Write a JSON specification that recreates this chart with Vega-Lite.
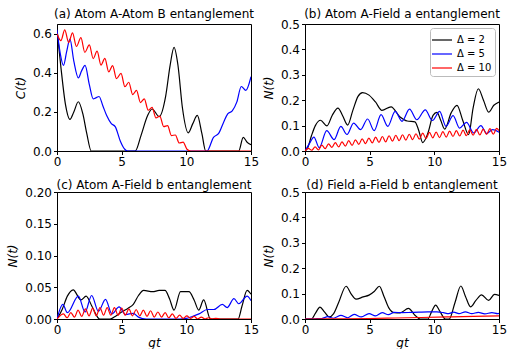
{
"$schema": "https://vega.github.io/schema/vega-lite/v6.json",
"padding": {"left": 6, "top": 7, "right": 0, "bottom": 0},
"datasets": {
"a": [
{"s":"2","t":0,"v":0.62},{"s":"2","t":0.3,"v":0.43},{"s":"2","t":0.65,"v":0.24},{"s":"2","t":1.0,"v":0.162},{"s":"2","t":1.3,"v":0.2},{"s":"2","t":1.65,"v":0.252},{"s":"2","t":2.0,"v":0.19},{"s":"2","t":2.3,"v":0.09},{"s":"2","t":2.65,"v":0},{"s":"2","t":6.05,"v":0},{"s":"2","t":6.5,"v":0.08},{"s":"2","t":7.0,"v":0.18},{"s":"2","t":7.35,"v":0.215},{"s":"2","t":7.9,"v":0.176},{"s":"2","t":8.4,"v":0.28},{"s":"2","t":8.75,"v":0.44},{"s":"2","t":9.05,"v":0.53},{"s":"2","t":9.35,"v":0.44},{"s":"2","t":9.7,"v":0.22},{"s":"2","t":10.15,"v":0.093},{"s":"2","t":10.5,"v":0.14},{"s":"2","t":10.85,"v":0.182},{"s":"2","t":11.2,"v":0.09},{"s":"2","t":11.5,"v":0},{"s":"2","t":14.05,"v":0},{"s":"2","t":14.4,"v":0.07},{"s":"2","t":14.7,"v":0.045},{"s":"2","t":15,"v":0.032},
{"s":"5","t":0,"v":0.62},{"s":"5","t":0.25,"v":0.5},{"s":"5","t":0.5,"v":0.438},{"s":"5","t":0.75,"v":0.51},{"s":"5","t":1.0,"v":0.573},{"s":"5","t":1.3,"v":0.46},{"s":"5","t":1.65,"v":0.374},{"s":"5","t":1.9,"v":0.41},{"s":"5","t":2.17,"v":0.438},{"s":"5","t":2.5,"v":0.34},{"s":"5","t":2.8,"v":0.267},{"s":"5","t":3.0,"v":0.272},{"s":"5","t":3.25,"v":0.279},{"s":"5","t":3.55,"v":0.23},{"s":"5","t":3.85,"v":0.18},{"s":"5","t":4.2,"v":0.14},{"s":"5","t":4.5,"v":0.125},{"s":"5","t":4.9,"v":0.05},{"s":"5","t":5.2,"v":0.012},{"s":"5","t":5.45,"v":0},{"s":"5","t":11.6,"v":0},{"s":"5","t":12.1,"v":0.07},{"s":"5","t":12.5,"v":0.09},{"s":"5","t":12.9,"v":0.15},{"s":"5","t":13.2,"v":0.19},{"s":"5","t":13.55,"v":0.205},{"s":"5","t":13.9,"v":0.25},{"s":"5","t":14.25,"v":0.33},{"s":"5","t":14.6,"v":0.31},{"s":"5","t":15,"v":0.38},
{"s":"10","t":0,"v":0.6},{"s":"10","t":0.3,"v":0.565},{"s":"10","t":0.6,"v":0.62},{"s":"10","t":0.9,"v":0.555},{"s":"10","t":1.2,"v":0.605},{"s":"10","t":1.5,"v":0.535},{"s":"10","t":1.85,"v":0.58},{"s":"10","t":2.15,"v":0.505},{"s":"10","t":2.5,"v":0.543},{"s":"10","t":2.8,"v":0.473},{"s":"10","t":3.1,"v":0.511},{"s":"10","t":3.4,"v":0.44},{"s":"10","t":3.7,"v":0.474},{"s":"10","t":4.0,"v":0.405},{"s":"10","t":4.3,"v":0.437},{"s":"10","t":4.6,"v":0.37},{"s":"10","t":4.95,"v":0.397},{"s":"10","t":5.25,"v":0.329},{"s":"10","t":5.55,"v":0.352},{"s":"10","t":5.85,"v":0.289},{"s":"10","t":6.15,"v":0.31},{"s":"10","t":6.45,"v":0.248},{"s":"10","t":6.75,"v":0.267},{"s":"10","t":7.05,"v":0.209},{"s":"10","t":7.35,"v":0.223},{"s":"10","t":7.65,"v":0.169},{"s":"10","t":7.95,"v":0.178},{"s":"10","t":8.25,"v":0.125},{"s":"10","t":8.55,"v":0.13},{"s":"10","t":8.85,"v":0.079},{"s":"10","t":9.15,"v":0.082},{"s":"10","t":9.45,"v":0.041},{"s":"10","t":9.75,"v":0.045},{"s":"10","t":10.05,"v":0.009},{"s":"10","t":10.35,"v":0},{"s":"10","t":15,"v":0}
],
"b": [
{"s":"2","t":0,"v":0},{"s":"2","t":0.2,"v":0.012},{"s":"2","t":0.5,"v":0.06},{"s":"2","t":0.8,"v":0.1},{"s":"2","t":1.2,"v":0.121},{"s":"2","t":1.7,"v":0.099},{"s":"2","t":2.1,"v":0.14},{"s":"2","t":2.55,"v":0.169},{"s":"2","t":2.9,"v":0.14},{"s":"2","t":3.3,"v":0.102},{"s":"2","t":3.7,"v":0.16},{"s":"2","t":4.1,"v":0.215},{"s":"2","t":4.45,"v":0.23},{"s":"2","t":4.95,"v":0.22},{"s":"2","t":5.45,"v":0.193},{"s":"2","t":5.95,"v":0.16},{"s":"2","t":6.65,"v":0.174},{"s":"2","t":7.35,"v":0.134},{"s":"2","t":7.9,"v":0.118},{"s":"2","t":8.5,"v":0.115},{"s":"2","t":8.8,"v":0.08},{"s":"2","t":9.1,"v":0.033},{"s":"2","t":9.5,"v":0.07},{"s":"2","t":9.9,"v":0.14},{"s":"2","t":10.2,"v":0.152},{"s":"2","t":10.5,"v":0.12},{"s":"2","t":10.8,"v":0.086},{"s":"2","t":11.3,"v":0.15},{"s":"2","t":11.75,"v":0.18},{"s":"2","t":12.2,"v":0.12},{"s":"2","t":12.65,"v":0.064},{"s":"2","t":13.0,"v":0.17},{"s":"2","t":13.4,"v":0.245},{"s":"2","t":13.8,"v":0.2},{"s":"2","t":14.2,"v":0.153},{"s":"2","t":14.6,"v":0.18},{"s":"2","t":15,"v":0.193},
{"s":"5","t":0,"v":0},{"s":"5","t":0.35,"v":0.03},{"s":"5","t":0.69,"v":0.055},{"s":"5","t":1.1,"v":0.013},{"s":"5","t":1.68,"v":0.08},{"s":"5","t":2.25,"v":0.045},{"s":"5","t":2.77,"v":0.097},{"s":"5","t":3.25,"v":0.065},{"s":"5","t":3.76,"v":0.11},{"s":"5","t":4.3,"v":0.084},{"s":"5","t":4.84,"v":0.126},{"s":"5","t":5.35,"v":0.08},{"s":"5","t":5.88,"v":0.143},{"s":"5","t":6.4,"v":0.097},{"s":"5","t":6.97,"v":0.156},{"s":"5","t":7.5,"v":0.117},{"s":"5","t":8.08,"v":0.165},{"s":"5","t":8.65,"v":0.123},{"s":"5","t":9.3,"v":0.162},{"s":"5","t":9.85,"v":0.12},{"s":"5","t":10.41,"v":0.156},{"s":"5","t":10.9,"v":0.097},{"s":"5","t":11.45,"v":0.139},{"s":"5","t":11.95,"v":0.09},{"s":"5","t":12.49,"v":0.113},{"s":"5","t":13.05,"v":0.071},{"s":"5","t":13.6,"v":0.1},{"s":"5","t":14.05,"v":0.069},{"s":"5","t":14.5,"v":0.084},{"s":"5","t":15,"v":0.074},
{"s":"10","t":0,"v":0},{"s":"10","t":0.26,"v":0.01},{"s":"10","t":0.52,"v":0.003},{"s":"10","t":0.78,"v":0.016},{"s":"10","t":1.04,"v":0.004},{"s":"10","t":1.3,"v":0.023},{"s":"10","t":1.56,"v":0.009},{"s":"10","t":1.82,"v":0.028},{"s":"10","t":2.08,"v":0.014},{"s":"10","t":2.34,"v":0.033},{"s":"10","t":2.6,"v":0.016},{"s":"10","t":2.86,"v":0.036},{"s":"10","t":3.12,"v":0.019},{"s":"10","t":3.38,"v":0.041},{"s":"10","t":3.64,"v":0.022},{"s":"10","t":3.9,"v":0.044},{"s":"10","t":4.16,"v":0.026},{"s":"10","t":4.42,"v":0.048},{"s":"10","t":4.68,"v":0.029},{"s":"10","t":4.94,"v":0.051},{"s":"10","t":5.2,"v":0.032},{"s":"10","t":5.46,"v":0.055},{"s":"10","t":5.72,"v":0.034},{"s":"10","t":5.98,"v":0.057},{"s":"10","t":6.24,"v":0.036},{"s":"10","t":6.5,"v":0.06},{"s":"10","t":6.76,"v":0.039},{"s":"10","t":7.02,"v":0.062},{"s":"10","t":7.28,"v":0.041},{"s":"10","t":7.54,"v":0.064},{"s":"10","t":7.8,"v":0.043},{"s":"10","t":8.06,"v":0.066},{"s":"10","t":8.32,"v":0.045},{"s":"10","t":8.58,"v":0.068},{"s":"10","t":8.84,"v":0.047},{"s":"10","t":9.1,"v":0.07},{"s":"10","t":9.36,"v":0.049},{"s":"10","t":9.62,"v":0.073},{"s":"10","t":9.88,"v":0.052},{"s":"10","t":10.14,"v":0.074},{"s":"10","t":10.4,"v":0.053},{"s":"10","t":10.66,"v":0.076},{"s":"10","t":10.92,"v":0.055},{"s":"10","t":11.18,"v":0.078},{"s":"10","t":11.44,"v":0.057},{"s":"10","t":11.7,"v":0.08},{"s":"10","t":11.96,"v":0.059},{"s":"10","t":12.22,"v":0.082},{"s":"10","t":12.48,"v":0.06},{"s":"10","t":12.74,"v":0.083},{"s":"10","t":13.0,"v":0.062},{"s":"10","t":13.26,"v":0.085},{"s":"10","t":13.52,"v":0.063},{"s":"10","t":13.78,"v":0.086},{"s":"10","t":14.04,"v":0.065},{"s":"10","t":14.3,"v":0.088},{"s":"10","t":14.56,"v":0.066},{"s":"10","t":14.82,"v":0.089},{"s":"10","t":15,"v":0.08}
],
"c": [
{"s":"2","t":0,"v":0},{"s":"2","t":0.4,"v":0.015},{"s":"2","t":0.8,"v":0.036},{"s":"2","t":1.25,"v":0.046},{"s":"2","t":1.85,"v":0.03},{"s":"2","t":2.25,"v":0.036},{"s":"2","t":2.7,"v":0.02},{"s":"2","t":3.1,"v":0.004},{"s":"2","t":3.3,"v":0},{"s":"2","t":4.1,"v":0},{"s":"2","t":4.5,"v":0.004},{"s":"2","t":5.0,"v":0.011},{"s":"2","t":5.5,"v":0.017},{"s":"2","t":5.9,"v":0.023},{"s":"2","t":6.3,"v":0.037},{"s":"2","t":6.7,"v":0.045},{"s":"2","t":7.4,"v":0.043},{"s":"2","t":7.9,"v":0.045},{"s":"2","t":8.35,"v":0.045},{"s":"2","t":8.7,"v":0.032},{"s":"2","t":9.05,"v":0.014},{"s":"2","t":9.55,"v":0.043},{"s":"2","t":10.2,"v":0.043},{"s":"2","t":10.6,"v":0.03},{"s":"2","t":10.96,"v":0.014},{"s":"2","t":11.34,"v":0.03},{"s":"2","t":11.86,"v":0},{"s":"2","t":14.0,"v":0},{"s":"2","t":14.3,"v":0.02},{"s":"2","t":14.7,"v":0.045},{"s":"2","t":15,"v":0.039},
{"s":"5","t":0,"v":0},{"s":"5","t":0.45,"v":0.023},{"s":"5","t":0.8,"v":0.01},{"s":"5","t":1.65,"v":0.036},{"s":"5","t":2.17,"v":0.011},{"s":"5","t":2.68,"v":0.037},{"s":"5","t":3.2,"v":0.012},{"s":"5","t":3.75,"v":0.031},{"s":"5","t":4.25,"v":0.008},{"s":"5","t":4.8,"v":0.019},{"s":"5","t":5.3,"v":0.007},{"s":"5","t":5.9,"v":0.009},{"s":"5","t":6.3,"v":0.003},{"s":"5","t":6.9,"v":0},{"s":"5","t":9.5,"v":0},{"s":"5","t":10.0,"v":0.001},{"s":"5","t":10.46,"v":0.004},{"s":"5","t":10.98,"v":0.008},{"s":"5","t":11.62,"v":0.015},{"s":"5","t":12.13,"v":0.015},{"s":"5","t":12.78,"v":0.023},{"s":"5","t":13.16,"v":0.018},{"s":"5","t":13.68,"v":0.032},{"s":"5","t":14.06,"v":0.024},{"s":"5","t":14.7,"v":0.036},{"s":"5","t":15,"v":0.029},
{"s":"10","t":0,"v":0},{"s":"10","t":0.5,"v":0.008},{"s":"10","t":0.78,"v":0.002},{"s":"10","t":1.07,"v":0.01},{"s":"10","t":1.35,"v":0.003},{"s":"10","t":1.63,"v":0.014},{"s":"10","t":1.91,"v":0.004},{"s":"10","t":2.2,"v":0.016},{"s":"10","t":2.48,"v":0.005},{"s":"10","t":2.76,"v":0.017},{"s":"10","t":3.04,"v":0.005},{"s":"10","t":3.32,"v":0.018},{"s":"10","t":3.6,"v":0.006},{"s":"10","t":3.88,"v":0.018},{"s":"10","t":4.16,"v":0.006},{"s":"10","t":4.44,"v":0.018},{"s":"10","t":4.72,"v":0.006},{"s":"10","t":5.0,"v":0.017},{"s":"10","t":5.28,"v":0.006},{"s":"10","t":5.56,"v":0.016},{"s":"10","t":5.84,"v":0.005},{"s":"10","t":6.12,"v":0.015},{"s":"10","t":6.4,"v":0.005},{"s":"10","t":6.68,"v":0.014},{"s":"10","t":6.96,"v":0.004},{"s":"10","t":7.24,"v":0.013},{"s":"10","t":7.52,"v":0.003},{"s":"10","t":7.8,"v":0.011},{"s":"10","t":8.08,"v":0.003},{"s":"10","t":8.36,"v":0.01},{"s":"10","t":8.64,"v":0.002},{"s":"10","t":8.92,"v":0.008},{"s":"10","t":9.2,"v":0.001},{"s":"10","t":9.48,"v":0.006},{"s":"10","t":9.76,"v":0.001},{"s":"10","t":10.04,"v":0.005},{"s":"10","t":10.32,"v":0.001},{"s":"10","t":10.6,"v":0.004},{"s":"10","t":10.88,"v":0},{"s":"10","t":11.16,"v":0.003},{"s":"10","t":11.44,"v":0},{"s":"10","t":11.72,"v":0.002},{"s":"10","t":12.0,"v":0},{"s":"10","t":12.28,"v":0.001},{"s":"10","t":12.6,"v":0},{"s":"10","t":15,"v":0}
],
"d": [
{"s":"2","t":0,"v":0},{"s":"2","t":0.5,"v":0},{"s":"2","t":0.8,"v":0.022},{"s":"2","t":1.16,"v":0.047},{"s":"2","t":1.5,"v":0.028},{"s":"2","t":1.88,"v":0.008},{"s":"2","t":2.2,"v":0.02},{"s":"2","t":2.6,"v":0.065},{"s":"2","t":3.18,"v":0.129},{"s":"2","t":3.55,"v":0.1},{"s":"2","t":3.95,"v":0.078},{"s":"2","t":4.5,"v":0.087},{"s":"2","t":4.95,"v":0.094},{"s":"2","t":5.35,"v":0.108},{"s":"2","t":5.75,"v":0.129},{"s":"2","t":6.1,"v":0.09},{"s":"2","t":6.48,"v":0.044},{"s":"2","t":6.9,"v":0.025},{"s":"2","t":7.35,"v":0.024},{"s":"2","t":8.0,"v":0.042},{"s":"2","t":8.5,"v":0.015},{"s":"2","t":8.9,"v":0},{"s":"2","t":9.5,"v":0},{"s":"2","t":9.8,"v":0.03},{"s":"2","t":10.1,"v":0.055},{"s":"2","t":10.45,"v":0.028},{"s":"2","t":10.85,"v":0},{"s":"2","t":11.15,"v":0},{"s":"2","t":11.6,"v":0.065},{"s":"2","t":12.05,"v":0.13},{"s":"2","t":12.4,"v":0.09},{"s":"2","t":12.8,"v":0.048},{"s":"2","t":13.2,"v":0.072},{"s":"2","t":13.65,"v":0.095},{"s":"2","t":14.2,"v":0.073},{"s":"2","t":14.65,"v":0.097},{"s":"2","t":15,"v":0.093},
{"s":"5","t":0,"v":0},{"s":"5","t":0.8,"v":0.001},{"s":"5","t":1.3,"v":0.002},{"s":"5","t":1.76,"v":0.009},{"s":"5","t":2.2,"v":0.003},{"s":"5","t":2.78,"v":0.014},{"s":"5","t":3.3,"v":0.005},{"s":"5","t":3.8,"v":0.018},{"s":"5","t":4.35,"v":0.008},{"s":"5","t":4.95,"v":0.021},{"s":"5","t":5.45,"v":0.012},{"s":"5","t":5.97,"v":0.025},{"s":"5","t":6.45,"v":0.017},{"s":"5","t":6.9,"v":0.026},{"s":"5","t":7.5,"v":0.025},{"s":"5","t":8.2,"v":0.026},{"s":"5","t":8.8,"v":0.027},{"s":"5","t":9.5,"v":0.028},{"s":"5","t":10.2,"v":0.028},{"s":"5","t":10.7,"v":0.025},{"s":"5","t":11.1,"v":0.021},{"s":"5","t":11.5,"v":0.027},{"s":"5","t":11.9,"v":0.021},{"s":"5","t":12.4,"v":0.028},{"s":"5","t":12.9,"v":0.021},{"s":"5","t":13.4,"v":0.026},{"s":"5","t":13.9,"v":0.02},{"s":"5","t":14.45,"v":0.025},{"s":"5","t":14.9,"v":0.021},{"s":"5","t":15,"v":0.022},
{"s":"10","t":0,"v":0},{"s":"10","t":3,"v":0.001},{"s":"10","t":5,"v":0.002},{"s":"10","t":7,"v":0.004},{"s":"10","t":9,"v":0.006},{"s":"10","t":11,"v":0.008},{"s":"10","t":13,"v":0.01},{"s":"10","t":15,"v":0.012}
]
},
"vconcat": [
{"hconcat": [
{"width":194,"height":127,"title":{"text":"(a) Atom A-Atom B entanglement"},"data":{"name":"a"},
"mark":{"type":"line","interpolate":"monotone","strokeWidth":1.2,"clip":true},
"encoding":{"x":{"field":"t","type":"quantitative","scale":{"domain":[0,15],"nice":false},"axis":{"values":[0,5,10,15],"title":null}},
"y":{"field":"v","type":"quantitative","scale":{"domain":[0,0.65],"nice":false},"axis":{"values":[0,0.2,0.4,0.6],"format":".1f","title":"C(t)"}},
"color":{"field":"s","type":"nominal","scale":{"domain":["2","5","10"],"range":["black","blue","red"]},"legend":null}}},
{"width":194,"height":127,"title":{"text":"(b) Atom A-Field a entanglement","dy":6},"data":{"name":"b"},
"mark":{"type":"line","interpolate":"monotone","strokeWidth":1.2,"clip":true},
"encoding":{"x":{"field":"t","type":"quantitative","scale":{"domain":[0,15],"nice":false},"axis":{"values":[0,5,10,15],"title":null}},
"y":{"field":"v","type":"quantitative","scale":{"domain":[0,0.5],"nice":false},"axis":{"values":[0,0.1,0.2,0.3,0.4,0.5],"format":".1f","title":"N(t)"}},
"color":{"field":"s","type":"nominal","scale":{"domain":["2","5","10"],"range":["black","blue","red"]},
"legend":{"orient":"top-right","offset":4,"title":null,"symbolType":"M-1.25,0H1.25","symbolSize":256,"symbolStrokeWidth":1.2,"symbolFillColor":"transparent","labelFontSize":10,"padding":3,"strokeColor":"#bbbbbb","fillColor":"white","cornerRadius":3,"rowPadding":0,"labelOffset":6,"labelExpr":"'Δ = ' + datum.label"}}}}
], "spacing": 1, "resolve": {"scale": {"color": "independent"}, "legend": {"color": "independent"}}},
{"hconcat": [
{"width":194,"height":127,"title":{"text":"(c) Atom A-Field b entanglement","dy":9},"data":{"name":"c"},
"mark":{"type":"line","interpolate":"monotone","strokeWidth":1.2,"clip":true},
"encoding":{"x":{"field":"t","type":"quantitative","scale":{"domain":[0,15],"nice":false},"axis":{"values":[0,5,10,15],"title":"gt"}},
"y":{"field":"v","type":"quantitative","scale":{"domain":[0,0.2],"nice":false},"axis":{"values":[0,0.05,0.1,0.15,0.2],"format":".2f","title":"N(t)"}},
"color":{"field":"s","type":"nominal","scale":{"domain":["2","5","10"],"range":["black","blue","red"]},"legend":null}}},
{"width":194,"height":127,"title":{"text":"(d) Field a-Field b entanglement","dy":9},"data":{"name":"d"},
"mark":{"type":"line","interpolate":"monotone","strokeWidth":1.2,"clip":true},
"encoding":{"x":{"field":"t","type":"quantitative","scale":{"domain":[0,15],"nice":false},"axis":{"values":[0,5,10,15],"title":"gt"}},
"y":{"field":"v","type":"quantitative","scale":{"domain":[0,0.5],"nice":false},"axis":{"values":[0,0.1,0.2,0.3,0.4,0.5],"format":".1f","title":"N(t)"}},
"color":{"field":"s","type":"nominal","scale":{"domain":["2","5","10"],"range":["black","blue","red"]},"legend":null}}}
], "spacing": 1, "resolve": {"scale": {"color": "independent"}, "legend": {"color": "independent"}}}
],
"spacing": 10,
"resolve": {"scale": {"color": "independent"}, "legend": {"color": "independent"}},
"config": {
"font": "DejaVu Sans",
"view": {"stroke": "black", "strokeWidth": 1},
"axis": {"grid": false, "domainColor": "black", "tickColor": "black", "labelColor": "black", "titleColor": "black", "labelFontSize": 12, "titleFontSize": 12, "titleFontWeight": "normal", "tickSize": 3.5, "labelPadding": 2, "labelFont": "DejaVu Sans", "titleFont": "DejaVu Sans"},
"axisY": {"titleFontStyle": "italic", "titlePadding": 5},
"axisX": {"titleFontStyle": "italic", "titlePadding": 2, "labelFlush": false},
"title": {"fontSize": 12, "fontWeight": "normal", "color": "black", "offset": 3, "frame": "group", "font": "DejaVu Sans"},
"legend": {"labelFont": "DejaVu Sans", "labelColor": "black"}
}
}
